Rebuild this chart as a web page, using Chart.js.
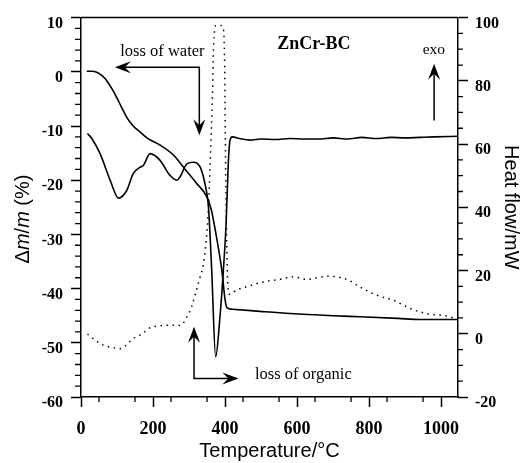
<!DOCTYPE html>
<html>
<head>
<meta charset="utf-8">
<script src="https://cdn.jsdelivr.net/npm/chart.js@4.4.0/dist/chart.umd.min.js"></script>
<style>
  html, body { margin: 0; padding: 0; background: #fff; }
</style>
</head>
<body>
<canvas id="chart" width="523" height="463"></canvas>
<script>
// mass loss curve (left axis, %)
const massTemp = [16, 30, 44, 60, 71, 85, 99, 113, 127, 145, 164, 185, 219, 256, 293, 320, 349, 362, 375, 391, 400, 405, 420, 497, 581, 700, 775, 880, 942, 1047];
const massLoss = [0.1, 0.1, -0.1, -0.8, -1.6, -3.0, -4.7, -6.6, -8.4, -10.0, -11.1, -12.3, -13.5, -15.3, -18.3, -20.5, -23.0, -25.5, -30.0, -36.6, -42.0, -43.5, -43.8, -44.2, -44.6, -45.0, -45.2, -45.5, -45.7, -45.7];

// second solid curve (left axis)
const solidTemp = [18, 30, 53, 81, 104, 127, 145, 164, 173, 192, 219, 247, 266, 275, 294, 312, 331, 344, 354, 363, 374, 385, 395, 403, 409, 414, 420, 440, 470, 500, 540, 580, 620, 660, 700, 740, 780, 820, 860, 900, 940, 980, 1047];
const solidVal = [-11.4, -12.3, -15.1, -20.0, -23.3, -21.9, -18.8, -17.6, -17.3, -15.1, -16.3, -19.1, -20.0, -19.4, -17.0, -16.7, -17.6, -20.6, -25.0, -36.6, -52.6, -46.0, -37.0, -28.0, -17.0, -12.6, -12.0, -12.3, -12.6, -12.4, -12.5, -12.3, -12.4, -12.4, -12.2, -12.4, -12.1, -12.3, -12.1, -12.2, -12.1, -12.0, -11.9];

// heat flow, dotted (right axis, mW)
const heatTemp = [18, 34, 62, 90, 108, 122, 145, 169, 192, 219, 247, 275, 295, 307, 321, 331, 340, 348, 354, 360, 365, 368, 371, 375, 388, 395, 399, 401, 403, 405, 408, 412, 432, 470, 506, 550, 590, 627, 660, 683, 710, 738, 775, 821, 868, 914, 960, 1016, 1047];
const heatFlow = [-0.1, -1.5, -3.6, -4.4, -4.7, -3.9, -1.5, -0.1, 1.9, 2.5, 2.7, 2.6, 5.5, 8.5, 14, 18, 22, 30, 40, 58, 75, 90, 96, 97.5, 97.5, 96.5, 85, 60, 40, 26, 15, 12.5, 13.8, 15.2, 16.4, 17.2, 18, 17.2, 17.8, 18.2, 18, 17.2, 14.8, 12.2, 10.6, 8, 6.4, 5.6, 4.5];

const serif = "'Liberation Serif', 'Times New Roman', serif";
const sans = "'Liberation Sans', Arial, sans-serif";

const toPoints = (xs, ys) => xs.map((x, i) => ({ x: x, y: ys[i] }));

function arrowHead(ctx, x, y, angle) {
  ctx.save();
  ctx.translate(x, y);
  ctx.rotate(angle);
  ctx.beginPath();
  ctx.moveTo(0, 0);
  ctx.lineTo(-16, -6);
  ctx.lineTo(-10, 0);
  ctx.lineTo(-16, 6);
  ctx.closePath();
  ctx.fill();
  ctx.restore();
}

const frameAndTicks = {
  id: "frameAndTicks",
  afterDraw(chart) {
    const ctx = chart.ctx;
    const area = chart.chartArea;
    const sx = chart.scales.x, sy = chart.scales.y, sr = chart.scales.y1;
    ctx.save();
    ctx.strokeStyle = "#000";
    ctx.lineWidth = 1.5;
    ctx.beginPath();
    ctx.moveTo(area.left, area.top);
    ctx.lineTo(area.right, area.top);
    ctx.stroke();

    ctx.lineWidth = 1.3;
    ctx.beginPath();
    for (let v = 50; v < 1047; v += 100) {
      const px = sx.getPixelForValue(v);
      ctx.moveTo(px, area.bottom);
      ctx.lineTo(px, area.bottom + 5);
    }
    for (let v = -58; v < 10; v += 2) {
      if (v % 10 === 0) continue;
      const py = sy.getPixelForValue(v);
      ctx.moveTo(area.left, py);
      ctx.lineTo(area.left - 6, py);
    }
    for (let v = -15; v < 100; v += 5) {
      if (v % 20 === 0) continue;
      const py = sr.getPixelForValue(v);
      ctx.moveTo(area.right, py);
      ctx.lineTo(area.right + 5, py);
    }
    ctx.stroke();

    // left axis title with italic m
    const parts = [["\u0394", ""], ["m", "italic "], ["/", ""], ["m", "italic "], [" (%)", ""]];
    ctx.translate(23, 219);
    ctx.rotate(-Math.PI / 2);
    let total = 0;
    parts.forEach(p => { ctx.font = p[1] + "20px " + sans; total += ctx.measureText(p[0]).width; });
    let cx = -total / 2;
    ctx.fillStyle = "#000";
    ctx.textBaseline = "middle";
    parts.forEach(p => {
      ctx.font = p[1] + "20px " + sans;
      ctx.fillText(p[0], cx, 0);
      cx += ctx.measureText(p[0]).width;
    });
    ctx.restore();
  }
};

const notes = {
  id: "notes",
  afterDraw(chart) {
    const ctx = chart.ctx;
    const sx = chart.scales.x, sy = chart.scales.y;
    const X = v => sx.getPixelForValue(v);
    const Y = v => sy.getPixelForValue(v);
    ctx.save();
    ctx.fillStyle = "#000";
    ctx.strokeStyle = "#000";
    ctx.lineWidth = 1.5;
    ctx.textBaseline = "alphabetic";

    ctx.font = "16.5px " + serif;
    ctx.textAlign = "center";
    ctx.fillText("loss of water", X(226), Y(3.0));
    ctx.textAlign = "left";
    ctx.fillText("loss of organic", X(483), Y(-56.7));

    ctx.font = "bold 18px " + serif;
    ctx.fillText("ZnCr-BC", X(545), Y(4.2));

    ctx.font = "15.5px " + serif;
    ctx.textAlign = "center";
    ctx.fillText("exo", X(980), Y(3.3));

    // loss of water arrow
    ctx.beginPath();
    ctx.moveTo(X(100), Y(0.85));
    ctx.lineTo(X(328.6), Y(0.85));
    ctx.lineTo(X(328.6), Y(-10.5));
    ctx.stroke();
    arrowHead(ctx, X(94), Y(0.85), Math.PI);
    arrowHead(ctx, X(328.6), Y(-11.7), Math.PI / 2);

    // exo arrow
    ctx.beginPath();
    ctx.moveTo(X(980.6), Y(-9.0));
    ctx.lineTo(X(980.6), Y(0.5));
    ctx.stroke();
    arrowHead(ctx, X(980.6), Y(1.5), -Math.PI / 2);

    // loss of organic arrow
    ctx.beginPath();
    ctx.moveTo(X(313.9), Y(-48));
    ctx.lineTo(X(313.9), Y(-56.6));
    ctx.lineTo(X(430), Y(-56.6));
    ctx.stroke();
    arrowHead(ctx, X(313.9), Y(-47.05), -Math.PI / 2);
    arrowHead(ctx, X(437), Y(-56.6), 0);
    ctx.restore();
  }
};

const tickFont = size => ({ family: serif, size: size, weight: "bold" });
const axisGrid = { drawOnChartArea: false, drawTicks: true, tickLength: 10, tickColor: "#000", tickWidth: 1.5 };
const axisBorder = { display: true, color: "#000", width: 1.5 };

new Chart(document.getElementById("chart"), {
  type: "scatter",
  data: {
    datasets: [
      {
        label: "mass",
        data: toPoints(massTemp, massLoss),
        yAxisID: "y",
        showLine: true,
        borderColor: "#000",
        borderWidth: 1.6,
        pointRadius: 0,
        cubicInterpolationMode: "monotone",
      },
      {
        label: "solid",
        data: toPoints(solidTemp, solidVal),
        yAxisID: "y",
        showLine: true,
        borderColor: "#000",
        borderWidth: 1.6,
        pointRadius: 0,
        cubicInterpolationMode: "monotone",
      },
      {
        label: "heat flow",
        data: toPoints(heatTemp, heatFlow),
        yAxisID: "y1",
        showLine: true,
        borderColor: "#000",
        borderWidth: 1.5,
        borderDash: [1.5, 4.5],
        pointRadius: 0,
        cubicInterpolationMode: "monotone",
      },
    ],
  },
  options: {
    responsive: false,
    animation: false,
    layout: { padding: { top: 17, left: 0, right: 0, bottom: 0 } },
    plugins: { legend: { display: false }, tooltip: { enabled: false } },
    scales: {
      x: {
        type: "linear",
        min: 0,
        max: 1047,
        ticks: { stepSize: 200, includeBounds: false, maxRotation: 0, color: "#000", font: tickFont(18), padding: 12, callback: v => String(v) },
        grid: axisGrid,
        border: axisBorder,
        title: { display: true, text: "Temperature/°C", color: "#000", font: { family: sans, size: 20 }, padding: 0 },
        afterFit: s => { s.height = 66; },
      },
      y: {
        position: "left",
        min: -60,
        max: 10,
        ticks: { stepSize: 10, color: "#000", font: tickFont(16), padding: 8, labelOffset: 6 },
        grid: axisGrid,
        border: axisBorder,
        afterFit: s => { s.width = 81; },
      },
      y1: {
        position: "right",
        min: -20,
        max: 100,
        ticks: { stepSize: 20, color: "#000", font: tickFont(16), padding: 7, labelOffset: 6 },
        grid: axisGrid,
        border: axisBorder,
        title: { display: true, text: "Heat flow/mW", color: "#000", font: { family: sans, size: 20 }, padding: 0 },
        afterFit: s => { s.width = 65; },
      },
    },
  },
  plugins: [frameAndTicks, notes],
});
</script>
</body>
</html>
